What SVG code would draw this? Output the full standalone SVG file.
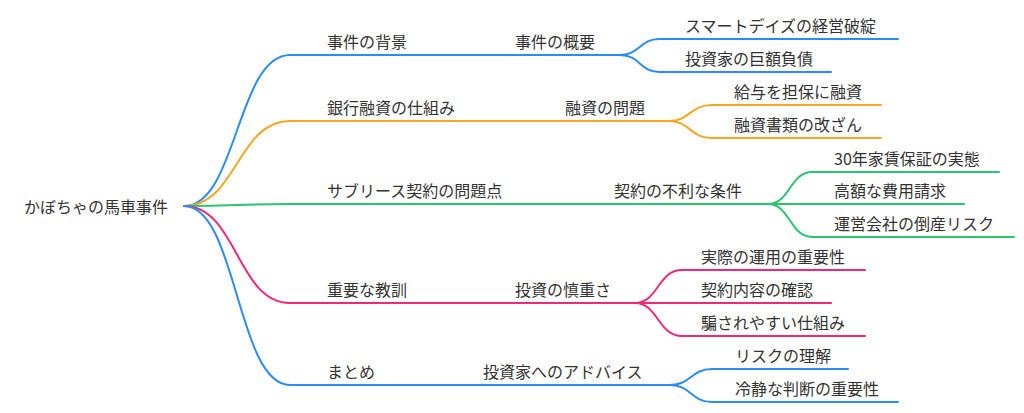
<svg xmlns="http://www.w3.org/2000/svg" width="1024" height="413" viewBox="0 0 1024 413">
<style>
text{font-family:"Noto Sans CJK JP","Noto Sans",sans-serif;font-size:16px;fill:#333}
.l{fill:none;stroke-width:2;stroke-linecap:round}
.b{stroke:#2b8cf7}.o{stroke:#f5a623}.g{stroke:#2bc46f}.p{stroke:#f0287a}
</style>
<rect width="1024" height="413" fill="#fff"/>
<g id="connectors">
<path class="l b" d="M184,206 C237,206 237,55 290,55 H620"/>
<path class="l b" d="M620,55 C640,55 640,39 659,39 H898"/>
<path class="l b" d="M620,55 C640,55 640,72 659,72 H831"/>
<path class="l o" d="M184,206 C237,206 237,121 290,121 H669"/>
<path class="l o" d="M669,121 C690,121 690,105 712,105 H881"/>
<path class="l o" d="M669,121 C690,121 690,138 712,138 H881"/>
<path class="l g" d="M184,206 C237,206 237,204 290,204 H768"/>
<path class="l g" d="M768,204 C790,204 790,172 812,172 H999"/>
<path class="l g" d="M768,204 H964"/>
<path class="l g" d="M768,204 C790,204 790,237 812,237 H1014"/>
<path class="l p" d="M184,206 C237,206 237,303 290,303 H635"/>
<path class="l p" d="M635,303 C658,303 658,270 682,270 H865"/>
<path class="l p" d="M635,303 H831"/>
<path class="l p" d="M635,303 C658,303 658,336 682,336 H865"/>
<path class="l b" d="M184,206 C237,206 237,385 290,385 H670"/>
<path class="l b" d="M670,385 C691,385 691,369 712,369 H848"/>
<path class="l b" d="M670,385 C691,385 691,402 712,402 H898"/>
</g>
<g id="root"><text x="24" y="213">かぼちゃの馬車事件</text></g>
<g id="n1"><text x="327" y="48">事件の背景</text></g>
<g id="n1-1"><text x="515" y="48">事件の概要</text></g>
<g id="n1-1-1"><text x="685" y="32">スマートデイズの経営破綻</text></g>
<g id="n1-1-2"><text x="685" y="65">投資家の巨額負債</text></g>
<g id="n2"><text x="327" y="114">銀行融資の仕組み</text></g>
<g id="n2-1"><text x="565" y="114">融資の問題</text></g>
<g id="n2-1-1"><text x="734" y="98">給与を担保に融資</text></g>
<g id="n2-1-2"><text x="734" y="131">融資書類の改ざん</text></g>
<g id="n3"><text x="327" y="197">サブリース契約の問題点</text></g>
<g id="n3-1"><text x="614" y="197">契約の不利な条件</text></g>
<g id="n3-1-1"><text x="834" y="165">30年家賃保証の実態</text></g>
<g id="n3-1-2"><text x="834" y="197">高額な費用請求</text></g>
<g id="n3-1-3"><text x="834" y="230">運営会社の倒産リスク</text></g>
<g id="n4"><text x="327" y="296">重要な教訓</text></g>
<g id="n4-1"><text x="515" y="296">投資の慎重さ</text></g>
<g id="n4-1-1"><text x="701" y="263">実際の運用の重要性</text></g>
<g id="n4-1-2"><text x="701" y="296">契約内容の確認</text></g>
<g id="n4-1-3"><text x="701" y="329">騙されやすい仕組み</text></g>
<g id="n5"><text x="327" y="378">まとめ</text></g>
<g id="n5-1"><text x="483" y="378">投資家へのアドバイス</text></g>
<g id="n5-1-1"><text x="735" y="362">リスクの理解</text></g>
<g id="n5-1-2"><text x="735" y="395">冷静な判断の重要性</text></g>
</svg>
